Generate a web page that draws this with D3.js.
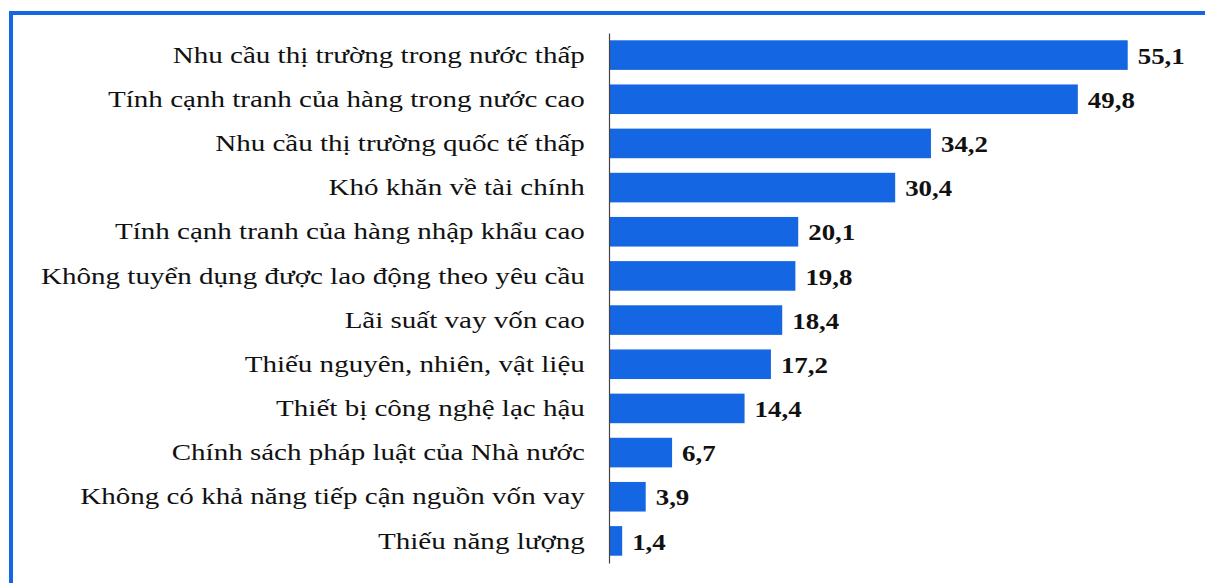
<!DOCTYPE html>
<html>
<head>
<meta charset="utf-8">
<script src="https://cdn.jsdelivr.net/npm/d3@7"></script>
<style>
  body { margin: 0; background: #fff; }
  svg { display: block; }
</style>
</head>
<body>
<svg width="1205" height="583"></svg>
<script>
var categories = [
    "Nhu cầu thị trường trong nước thấp",
    "Tính cạnh tranh của hàng trong nước cao",
    "Nhu cầu thị trường quốc tế thấp",
    "Khó khăn về tài chính",
    "Tính cạnh tranh của hàng nhập khẩu cao",
    "Không tuyển dụng được lao động theo yêu cầu",
    "Lãi suất vay vốn cao",
    "Thiếu nguyên, nhiên, vật liệu",
    "Thiết bị công nghệ lạc hậu",
    "Chính sách pháp luật của Nhà nước",
    "Không có khả năng tiếp cận nguồn vốn vay",
    "Thiếu năng lượng"
];
var values = [55.1, 49.8, 34.2, 30.4, 20.1, 19.8, 18.4, 17.2, 14.4, 6.7, 3.9, 1.4];
var valueLabels = ["55,1", "49,8", "34,2", "30,4", "20,1", "19,8", "18,4", "17,2", "14,4", "6,7", "3,9", "1,4"];

var svg = d3.select("svg"),
    width = +svg.attr("width"),
    height = +svg.attr("height");

var blue = "#1466e2";
var serif = "'Liberation Serif', 'Times New Roman', serif";

// frame lines (left + top)
svg.append("line")
    .attr("x1", 11).attr("x2", 11).attr("y1", 11).attr("y2", height)
    .attr("stroke", blue).attr("stroke-width", 4);
svg.append("line")
    .attr("x1", 9).attr("x2", width).attr("y1", 13).attr("y2", 13)
    .attr("stroke", blue).attr("stroke-width", 4);

var x = d3.scaleLinear().domain([0, 60]).range([609, 609 + 60 * 9.414]);
var y = d3.scaleBand().domain(categories).range([33, 563])
    .paddingInner(0.33).paddingOuter(0.165);

var data = categories.map(function(c, i) {
    return { cat: c, value: values[i], label: valueLabels[i] };
});

svg.selectAll(".bar")
    .data(data)
    .enter()
    .append("rect")
    .attr("class", "bar")
    .attr("x", x(0))
    .attr("y", function(d) { return y(d.cat); })
    .attr("width", function(d) { return x(d.value) - x(0); })
    .attr("height", y.bandwidth())
    .attr("fill", blue);

// category axis (text is a bit stretched horizontally in the original)
var axis = svg.append("g")
    .attr("transform", "translate(" + x(0) + ",0)")
    .call(d3.axisLeft(y).tickSize(0).tickPadding(20));
axis.select(".domain").attr("stroke", "#444").attr("stroke-width", 1.2);
axis.selectAll("text")
    .attr("fill", "#111")
    .attr("transform", "scale(1.21,1)")
    .style("font-family", serif)
    .style("font-size", "24px");

svg.selectAll(".val")
    .data(data)
    .enter()
    .append("text")
    .attr("class", "val")
    .attr("transform", function(d) {
        return "translate(" + (x(d.value) + 10) + "," + (y(d.cat) + y.bandwidth() / 2) + ") scale(1.12,1)";
    })
    .attr("dy", "0.36em")
    .attr("fill", "#111")
    .style("font-family", serif)
    .style("font-weight", "bold")
    .style("font-size", "24px")
    .text(function(d) { return d.label; });
</script>
</body>
</html>
